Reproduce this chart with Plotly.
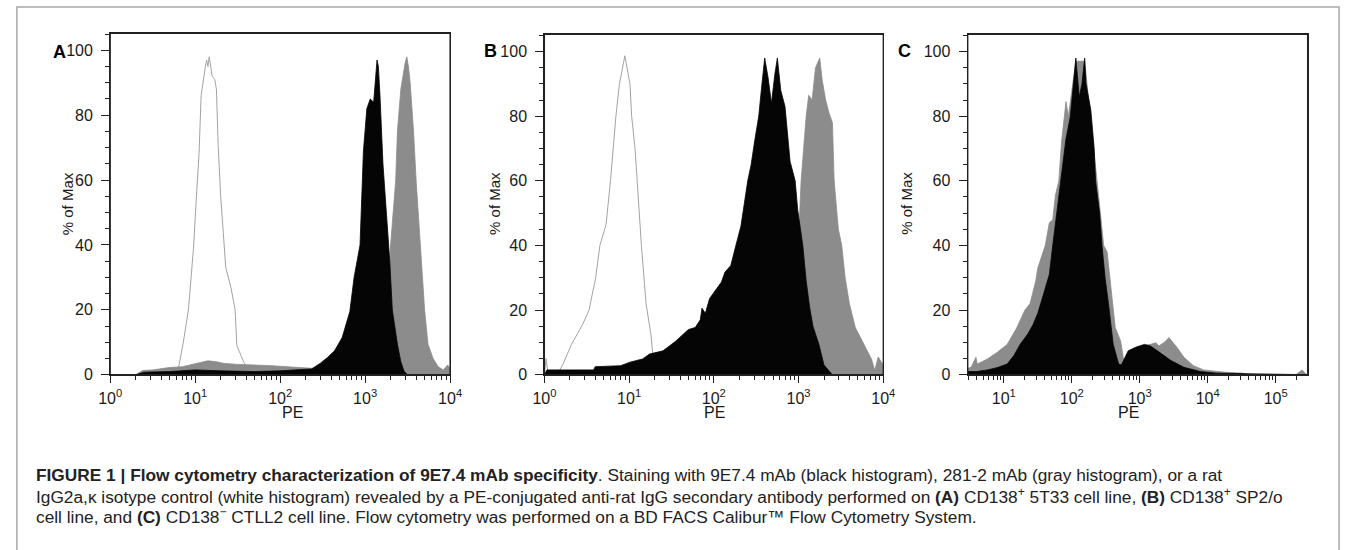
import plotly.graph_objects as go

W, H = 1354, 550

# ---------------- data (x given as log10(PE), y as % of Max) ----------------
# Panel A
a_white_log = [0.70, 0.78, 0.81, 0.86, 0.92, 0.98, 1.01, 1.045, 1.07, 1.09, 1.12, 1.135, 1.15, 1.165,
               1.20, 1.23, 1.25, 1.27, 1.30, 1.36, 1.42, 1.47, 1.49, 1.57, 1.64, 1.70]
a_white_pct = [0, 0.5, 3, 10, 20, 39, 53, 68, 86, 90, 95, 97, 95, 98,
               92, 91, 88, 71, 55, 33, 27, 20, 9, 4, 1, 0]
a_gray_log = [0.30, 0.38, 0.50, 0.69, 0.85, 1.00, 1.15, 1.25, 1.34, 1.50, 1.69, 1.90, 2.18, 2.37, 2.60,
              2.90, 3.10, 3.20, 3.25, 3.27, 3.30, 3.33, 3.36, 3.38, 3.42, 3.47, 3.49, 3.51, 3.53, 3.57,
              3.60, 3.65, 3.70, 3.73, 3.74, 3.80, 3.86, 3.92, 3.97, 4.00]
a_gray_pct = [0, 1.3, 1.5, 2.2, 2.5, 3.5, 4.3, 4.0, 3.5, 3.2, 3.1, 2.8, 2.3, 2.0, 2.0,
              2.0, 3, 6, 12, 20, 40, 50, 60, 75, 88, 96, 98, 95, 90, 75,
              60, 40, 20, 12, 9.4, 5, 2.5, 1.5, 3, 2]
a_black_log = [0.30, 0.40, 0.70, 1.00, 1.30, 1.70, 2.00, 2.20, 2.37, 2.47, 2.56, 2.64, 2.73, 2.82, 2.87,
               2.94, 2.98, 3.02, 3.06, 3.10, 3.14, 3.156, 3.175, 3.21, 3.25, 3.29, 3.32, 3.38, 3.42,
               3.46, 3.50]
a_black_pct = [0, 0.8, 1.0, 1.5, 1.2, 1.0, 1.2, 1.4, 1.8, 3.5, 5.4, 7.4, 11.5, 19.5, 30,
               40, 69, 82, 85, 84, 97, 95, 86, 65, 50, 35, 20, 9.4, 4,
               1, 0]

# Panel B
b_white_log = [0.00, 0.02, 0.04, 0.10, 0.16, 0.22, 0.32, 0.45, 0.527, 0.605, 0.655, 0.728, 0.78,
               0.844, 0.886, 0.95, 1.01, 1.03, 1.07, 1.095, 1.145, 1.20, 1.26, 1.30, 1.35]
b_white_pct = [0, 5, 1, 0.8, 0.5, 3.3, 9.4, 15.5, 20, 30, 40, 46.5, 60,
               80, 90, 98.7, 90, 80, 70, 60, 40, 22, 12, 0, 0]
b_gray_log = [2.70, 2.85, 2.90, 2.95, 2.98, 3.03, 3.09, 3.12, 3.16, 3.20, 3.25, 3.28, 3.32, 3.36,
              3.40, 3.42, 3.47, 3.51, 3.55, 3.60, 3.67, 3.77, 3.86, 3.90, 3.94, 4.00]
b_gray_pct = [0, 1, 2, 10, 30, 60, 80, 86.5, 85, 95, 98, 91, 85, 81,
              78, 60, 45, 40, 30, 22, 14.6, 9.4, 4.9, 1.3, 5.5, 3]
b_black_log = [0.00, 0.03, 0.30, 0.58, 0.60, 0.90, 1.01, 1.16, 1.24, 1.40, 1.55, 1.70, 1.78, 1.84,
               1.86, 1.90, 1.95, 2.02, 2.09, 2.13, 2.20, 2.26, 2.32, 2.40, 2.44, 2.48, 2.53, 2.56,
               2.60, 2.64, 2.68, 2.72, 2.75, 2.79, 2.84, 2.90, 2.96, 2.99, 3.05, 3.09, 3.13, 3.17,
               3.24, 3.30, 3.34, 3.38, 3.40]
b_black_pct = [0, 1.5, 1.5, 1.5, 2.5, 2.8, 3.9, 4.9, 6.4, 7.4, 10.4, 14, 14.6, 17,
               20.6, 19, 23.6, 26, 28.7, 31.7, 33.8, 40, 46, 60, 65, 72, 80, 88,
               98, 92, 84, 93, 98, 88, 83, 66, 60, 51, 40, 29, 21, 15,
               9.4, 3, 1.8, 0.3, 0]

# Panel C
c_gray_log = [0.47, 0.52, 0.59, 0.61, 0.76, 0.90, 1.05, 1.19, 1.31, 1.385, 1.41, 1.47, 1.50, 1.55,
              1.61, 1.67, 1.72, 1.76, 1.81, 1.85, 1.89, 1.915, 1.95, 2.06, 2.19, 2.30, 2.42, 2.47,
              2.52, 2.59, 2.64, 2.72, 2.76, 2.80, 2.86, 3.07, 3.24, 3.28, 3.36, 3.43, 3.55, 3.65,
              3.79, 3.94, 4.25, 4.51, 4.60, 5.30, 5.39, 5.44, 5.47]
c_gray_pct = [2, 2.3, 5.4, 3.3, 4.9, 6.9, 9.4, 14.5, 20, 22, 24, 29, 33, 36,
              40, 47, 48, 55.6, 60, 72, 80, 84.5, 80, 97, 97, 75, 50, 40,
              38, 24.6, 14.6, 10.4, 5, 4.5, 6.4, 8.9, 9.9, 8.9, 10, 11.5, 8.4, 5.4,
              2.8, 1.5, 0.8, 0.5, 0.1, 0.1, 1.5, 0.3, 0]
c_black_log = [0.47, 0.60, 0.76, 0.90, 1.05, 1.15, 1.24, 1.35, 1.43, 1.50, 1.58, 1.67, 1.72, 1.78,
               1.84, 1.915, 1.98, 2.02, 2.06, 2.11, 2.15, 2.19, 2.21, 2.28, 2.33, 2.35, 2.41, 2.445,
               2.49, 2.54, 2.61, 2.69, 2.73, 2.83, 2.95, 3.07, 3.15, 3.26, 3.46, 3.65, 3.89, 4.13,
               4.50, 5.00, 5.47]
c_black_pct = [1, 1, 1.5, 2.2, 3.3, 6, 9.4, 12.5, 15.5, 19, 24.6, 31, 40, 50,
               60, 73, 80, 90, 98, 86, 90, 98, 90, 82, 70, 60, 50, 40,
               30, 22, 9.4, 3.3, 3, 7.4, 8.6, 9.4, 9, 7.4, 4.4, 2.3, 1.0, 0.5,
               0.3, 0.1, 0]

y_ticks = [0, 20, 40, 60, 80, 100]
x_ticks_ab = [1, 10, 100, 1000, 10000]
x_labels_ab = ["10<sup>0</sup>", "10<sup>1</sup>", "10<sup>2</sup>", "10<sup>3</sup>", "10<sup>4</sup>"]
x_ticks_c = [10, 100, 1000, 10000, 100000]
x_labels_c = ["10<sup>1</sup>", "10<sup>2</sup>", "10<sup>3</sup>", "10<sup>4</sup>", "10<sup>5</sup>"]
panel_letters = ["A", "B", "C"]
x_title = "PE"
y_title = "% of Max"

# ---------------- layout helpers ----------------
def px(x):
    return x / W

def py(y):
    return 1 - y / H

FONT = "Liberation Sans, Arial, sans-serif"
WHITE_LINE = "#a3a3a3"
GRAY_FILL = "#8c8c8c"
BLACK_FILL = "#050505"
AXIS = "#222222"

fig = go.Figure()

def minor_logs(lo, hi):
    vals = []
    for k in range(lo, hi + 1):
        for m in range(2, 10):
            vals.append(m * 10 ** k)
    return vals

panels = [
    dict(key="", white=(a_white_log, a_white_pct), gray=(a_gray_log, a_gray_pct),
         black=(a_black_log, a_black_pct), xd=(100, 446), yd=(381, 34), xr=[0, 4],
         yr=[0, 105.2], tv=x_ticks_ab, tt=x_labels_ab, minor=minor_logs(0, 3),
         letter=(40, 41), ytitle=(46, 207), xtitle=(273, 430)),
    dict(key="2", white=(b_white_log, b_white_pct), gray=(b_gray_log, b_gray_pct),
         black=(b_black_log, b_black_pct), xd=(542, 887), yd=(381, 35), xr=[0, 4],
         yr=[0, 105.3], tv=x_ticks_ab, tt=x_labels_ab, minor=minor_logs(0, 3),
         letter=(487, 40), ytitle=(491, 207), xtitle=(715, 430)),
    dict(key="3", white=None, gray=(c_gray_log, c_gray_pct),
         black=(c_black_log, c_black_pct), xd=(973, 1319), yd=(381, 35), xr=[0.47, 5.47],
         yr=[0, 105.3], tv=x_ticks_c, tt=x_labels_c, minor=minor_logs(0, 5),
         letter=(917, 40), ytitle=(921, 207), xtitle=(1149, 430)),
]

for i, p in enumerate(panels):
    xa = "x" + p["key"]
    ya = "y" + p["key"]
    if p["white"] is not None:
        lx, yv = p["white"]
        fig.add_trace(go.Scatter(x=[10 ** v for v in lx], y=yv, mode="lines",
                                 fill="tozeroy", fillcolor="white",
                                 line=dict(color=WHITE_LINE, width=1),
                                 xaxis=xa, yaxis=ya, showlegend=False, hoverinfo="skip"))
    lx, yv = p["gray"]
    fig.add_trace(go.Scatter(x=[10 ** v for v in lx], y=yv, mode="lines", fill="tozeroy",
                             fillcolor=GRAY_FILL, line=dict(color=GRAY_FILL, width=0.8),
                             xaxis=xa, yaxis=ya, showlegend=False, hoverinfo="skip"))
    lx, yv = p["black"]
    fig.add_trace(go.Scatter(x=[10 ** v for v in lx], y=yv, mode="lines", fill="tozeroy",
                             fillcolor=BLACK_FILL, line=dict(color=BLACK_FILL, width=0.8),
                             xaxis=xa, yaxis=ya, showlegend=False, hoverinfo="skip"))

    xaxis = dict(type="log", domain=[px(p["xd"][0]), px(p["xd"][1])], range=p["xr"],
                 anchor=ya, showgrid=False, zeroline=False, showline=True, mirror=True,
                 linecolor=AXIS, linewidth=1.3, ticks="outside", ticklen=7, tickwidth=1.2,
                 tickcolor=AXIS, tickvals=p["tv"], ticktext=p["tt"],
                 tickfont=dict(family=FONT, size=16, color="#1a1a1a"),
                 ticklabelstandoff=2,
                 minor=dict(tickvals=p["minor"], ticks="outside", ticklen=4, tickwidth=1,
                            tickcolor=AXIS, showgrid=False))
    yaxis = dict(domain=[py(p["yd"][0]), py(p["yd"][1])], range=p["yr"], anchor=xa,
                 showgrid=False, zeroline=False, showline=True, mirror=True,
                 linecolor=AXIS, linewidth=1.3, ticks="outside", ticklen=8, tickwidth=1.2,
                 tickcolor=AXIS, tickvals=y_ticks,
                 tickfont=dict(family=FONT, size=16, color="#1a1a1a"),
                 ticklabelstandoff=5,
                 minor=dict(dtick=5, ticks="outside", ticklen=4, tickwidth=1,
                            tickcolor=AXIS, showgrid=False))
    fig.update_layout(**{"xaxis" + p["key"]: xaxis, "yaxis" + p["key"]: yaxis})

    # plot frame
    fig.add_shape(type="rect", xref="paper", yref="paper",
                  x0=px(p["xd"][0]), x1=px(p["xd"][1]), y0=py(p["yd"][0]), y1=py(p["yd"][1]),
                  line=dict(color=AXIS, width=1.3), fillcolor="rgba(0,0,0,0)", layer="above")

    fig.add_annotation(x=px(p["letter"][0]), y=py(p["letter"][1]), xref="paper", yref="paper",
                       text="<b>" + panel_letters[i] + "</b>", showarrow=False,
                       font=dict(family=FONT, size=18, color="#000"))
    fig.add_annotation(x=px(p["ytitle"][0]), y=py(p["ytitle"][1]), xref="paper", yref="paper",
                       text=y_title, textangle=-90, showarrow=False,
                       font=dict(family=FONT, size=15, color="#1a1a1a"))
    fig.add_annotation(x=px(p["xtitle"][0]), y=py(p["xtitle"][1]), xref="paper", yref="paper",
                       text=x_title, showarrow=False,
                       font=dict(family=FONT, size=16, color="#1a1a1a"))

caption_lines = [
    "<b>FIGURE 1 | Flow cytometry characterization of 9E7.4 mAb specificity</b>. Staining with 9E7.4 mAb (black histogram), 281-2 mAb (gray histogram), or a rat",
    "IgG2a,κ isotype control (white histogram) revealed by a PE-conjugated anti-rat IgG secondary antibody performed on <b>(A)</b> CD138<sup>+</sup> 5T33 cell line, <b>(B)</b> CD138<sup>+</sup> SP2/o",
    "cell line, and <b>(C)</b> CD138<sup>−</sup> CTLL2 cell line. Flow cytometry was performed on a BD FACS Calibur™ Flow Cytometry System.",
]
caption_y = [483, 504, 525]
for line, yy in zip(caption_lines, caption_y):
    fig.add_annotation(x=px(22), y=py(yy), xref="paper", yref="paper", text=line,
                       showarrow=False, xanchor="left", yanchor="middle",
                       font=dict(family=FONT, size=17.3, color="#222"))

# outer figure frame
fig.add_shape(type="rect", xref="paper", yref="paper", x0=px(5), x1=px(1351),
              y0=py(560), y1=py(7), line=dict(color="#a8a8a8", width=1.5),
              fillcolor="rgba(0,0,0,0)", layer="below")

fig.update_layout(width=W, height=H, autosize=False, margin=dict(l=0, r=0, t=0, b=0),
                  paper_bgcolor="white", plot_bgcolor="white")

page_js = """
var de = document.documentElement, bd = document.body;
[de, bd].forEach(function(el){
  el.style.margin = '0px'; el.style.padding = '0px'; el.style.overflow = 'hidden';
});
"""

fig.write_html("out.html", config={"displayModeBar": False}, post_script=page_js)
